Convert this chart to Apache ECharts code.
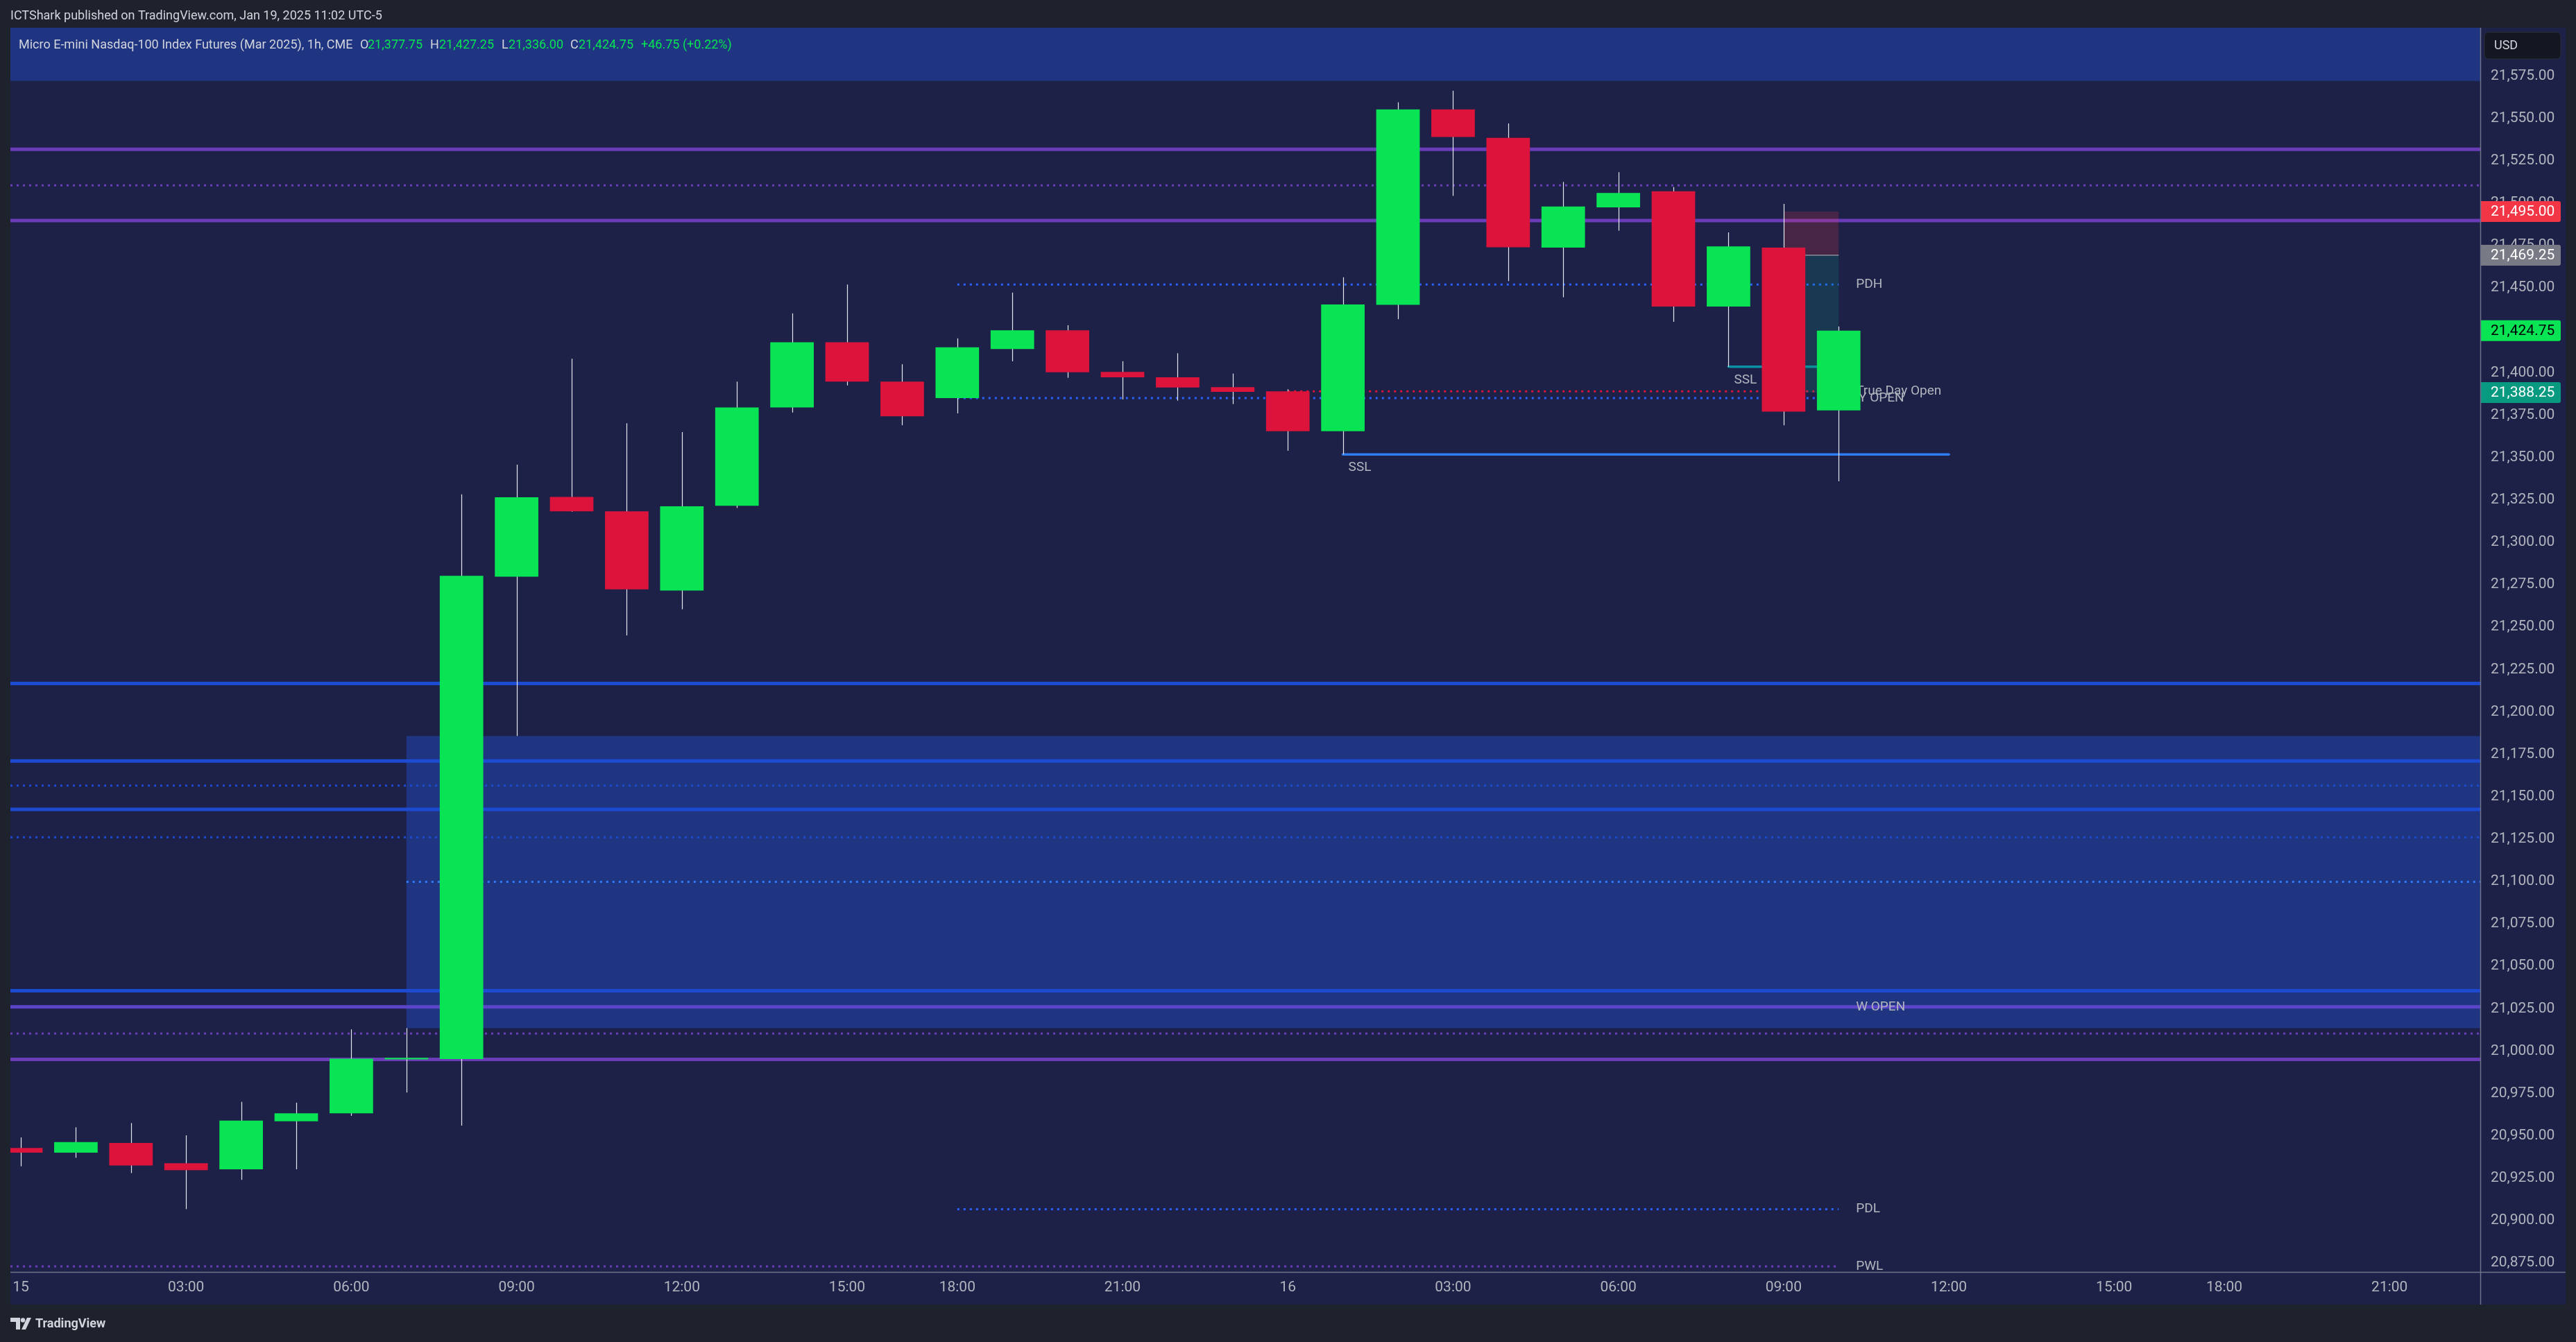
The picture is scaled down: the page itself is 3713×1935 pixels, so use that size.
<!DOCTYPE html>
<html>
<head>
<meta charset="utf-8">
<script src="https://cdn.jsdelivr.net/npm/echarts@6/dist/echarts.min.js"></script>
<style>
html,body{margin:0;padding:0;background:#1e222d;}
#chart{width:3713px;height:1935px;}
</style>
</head>
<body>
<div id="chart"></div>
<script>
// ---------------- DATA ----------------
// hourly bars, Jan 15 00:00 (index 0) ... Jan 16 10:00 (index 33); 17:00 maintenance hour skipped
const barIndex = [0,1,2,3,4,5,6,7,8,9,10,11,12,13,14,15,16,17,18,19,20,21,22,23,24,25,26,27,28,29,30,31,32,33];
const opens  = [20942.75,20940.00,20945.75,20933.75,20930.25,20958.50,20963.25,20995.00,20995.25,21279.75,21326.75,21318.25,21271.50,21321.50,21379.50,21418.00,21394.75,21385.00,21414.00,21425.00,21400.50,21397.25,21391.50,21389.00,21365.50,21440.00,21555.25,21538.50,21473.75,21497.50,21507.00,21439.00,21473.75,21377.75];
const highs  = [20949.00,20955.00,20957.50,20950.25,20970.00,20969.50,21012.75,21013.50,21328.25,21345.75,21408.25,21370.25,21365.00,21394.75,21435.00,21452.00,21405.00,21420.25,21447.25,21428.00,21406.75,21411.50,21399.50,21390.25,21456.25,21559.50,21566.25,21547.00,21512.50,21518.25,21509.50,21482.75,21499.50,21427.25];
const lows   = [20932.00,20937.00,20928.00,20906.75,20924.00,20930.25,20961.75,20975.50,20956.00,21185.75,21318.00,21245.00,21260.50,21320.25,21376.50,21392.50,21369.00,21376.00,21406.75,21397.00,21384.25,21383.50,21381.50,21354.00,21351.75,21431.50,21504.25,21454.00,21444.50,21483.75,21430.00,21403.50,21369.00,21336.00];
const closes = [20940.00,20946.25,20932.50,20929.75,20959.00,20963.25,20995.50,20996.00,21280.25,21326.50,21318.25,21272.25,21321.25,21379.50,21418.00,21394.75,21374.25,21415.00,21425.00,21400.25,21397.25,21391.25,21388.75,21365.50,21440.25,21555.25,21539.00,21474.00,21498.00,21506.00,21439.00,21474.50,21377.00,21424.75];

// time-axis tick labels (bar index -> label)
const xTickIdx    = [0,3,6,9,12,15,17,20,23,26,29,32,35,38,40,43];
const xTickLabels = ['15','03:00','06:00','09:00','12:00','15:00','18:00','21:00','16','03:00','06:00','09:00','12:00','15:00','18:00','21:00'];
// price-axis tick labels
const yTicks = [20875,20900,20925,20950,20975,21000,21025,21050,21075,21100,21125,21150,21175,21200,21225,21250,21275,21300,21325,21350,21375,21400,21425,21450,21475,21500,21525,21550,21575];

// axis window
const X_MIN = -0.189, X_MAX = 44.647;
const Y_MIN = 20869.69, Y_MAX = 21603.43;

// horizontal levels
const levelPrice = [21531.75,21510.50,21489.75,21452.00,21385.00,21389.00,21351.75,21403.50,21216.75,21171.00,21156.50,21142.50,21126.00,21099.75,21035.50,21026.00,21026.00,21010.25,20995.00,20906.75,20873.00];
const levelFrom  = [X_MIN,X_MIN,X_MIN,17,17,23,24,31,X_MIN,X_MIN,X_MIN,X_MIN,X_MIN,7,X_MIN,X_MIN,X_MIN,X_MIN,X_MIN,17,X_MIN];
const levelTo    = [X_MAX,X_MAX,X_MAX,33,33,33,35,33,X_MAX,X_MAX,X_MAX,X_MAX,X_MAX,X_MAX,X_MAX,X_MAX,33,X_MAX,X_MAX,33,33];
const levelKind  = ['purple','purpleDot','purple','brightDot','brightDot','redDot','ssl','sslCyan','blue','blue','blueDot','blue','blueDot','midDot','blue','lavender','lavenderDot','purpleDot','purple','brightDot','purpleDot'];
const levelText  = ['','','','PDH','DAY OPEN','True Day Open','SSL','SSL','','','','','','','','','W OPEN','','','PDL','PWL'];

// zones (FVG and premium band)
const zoneFrom = [7, X_MIN];
const zoneTo   = [X_MAX, X_MAX];
const zoneLow  = [21013.50, 21572.00];
const zoneHigh = [21185.75, Y_MAX];

// short position tool
const posFrom = 32, posTo = 33;
const posStop = 21495.00, posEntry = 21469.25, posTarget = 21388.25;

const symbolTitle = 'Micro E-mini Nasdaq-100 Index Futures (Mar 2025), 1h, CME';
const changeText = '+46.75 (+0.22%)';
const publishText = 'ICTShark published on TradingView.com, Jan 19, 2025 11:02 UTC-5';

// ---------------- STYLE ----------------
const GREEN = '#08e453', RED = '#dc143c', WICK = '#e6e8ef';
const BG = '#1d2147', FRAME = '#1e222d', TXT = '#b2b5be';
const FONT = 'Roboto, "Noto Sans", sans-serif';
const LEVEL_STYLES = {
  purple:      {stroke:'#6a3cb8', lineWidth:5},
  purpleDot:   {stroke:'#6a3cb8', lineWidth:3, lineDash:[3,6]},
  lavender:    {stroke:'#5b45c9', lineWidth:5},
  lavenderDot: {stroke:'#5b45c9', lineWidth:3, lineDash:[3,6]},
  blue:        {stroke:'#1c4bd1', lineWidth:5},
  blueDot:     {stroke:'#1c4bd1', lineWidth:3, lineDash:[3,6]},
  brightDot:   {stroke:'#2962ff', lineWidth:3, lineDash:[3,6]},
  midDot:      {stroke:'#3179f5', lineWidth:3, lineDash:[3,6]},
  redDot:      {stroke:'#dc143c', lineWidth:3, lineDash:[3,6]},
  ssl:         {stroke:'#2e7cf6', lineWidth:3.5, lineCap:'round'},
  sslCyan:     {stroke:'#0a8fa3', lineWidth:3.5, lineCap:'round'}
};
const fmt = v => Number(v).toLocaleString('en-US',{minimumFractionDigits:2, maximumFractionDigits:2});

// ---------------- BUILD ----------------
const candleData = barIndex.map((x,i)=>[x, opens[i], closes[i], lows[i], highs[i]]);
const levelData = levelPrice.map((p,i)=>[levelFrom[i], levelTo[i], p, i]);
const zoneData = zoneLow.map((lo,i)=>[zoneFrom[i], zoneTo[i], lo, zoneHigh[i]]);
const last = barIndex.length - 1;
const tagData = [
  [posStop,  '#f23645', '#ffffff'],
  [posEntry, '#787b86', '#ffffff'],
  [closes[last], GREEN, '#000000'],
  [posTarget, '#089981', '#ffffff']
];

const chart = echarts.init(document.getElementById('chart'), null, {renderer:'canvas'});

const option = {
  backgroundColor: BG,
  animation: false,
  grid: {left:15, right:138, top:40, bottom:101, containLabel:false},
  xAxis: {
    type:'value', min:X_MIN, max:X_MAX,
    axisLine:{show:false}, axisTick:{show:false}, splitLine:{show:false},
    axisLabel:{
      customValues: xTickIdx,
      formatter: v => { const k = xTickIdx.indexOf(Math.round(v)); return k >= 0 ? xTickLabels[k] : ''; },
      color:TXT, fontSize:21, fontFamily:FONT, margin:12
    }
  },
  yAxis: {
    type:'value', position:'right', min:Y_MIN, max:Y_MAX, scale:true,
    axisLine:{show:false}, axisTick:{show:false}, splitLine:{show:false},
    axisLabel:{
      customValues: yTicks, formatter: v => fmt(v),
      color:TXT, fontSize:21, fontFamily:FONT, margin:15
    }
  },
  series: [
    { // zones
      type:'custom', z:1, clip:true, data:zoneData,
      encode:{x:[0,1], y:[2,3]},
      renderItem:(params, api) => {
        const a = api.coord([api.value(0), api.value(3)]);
        const b = api.coord([api.value(1), api.value(2)]);
        return {type:'rect', shape:{x:a[0], y:a[1], width:b[0]-a[0], height:b[1]-a[1]}, style:{fill:'#1f3581'}};
      }
    },
    { // levels
      type:'custom', z:3, clip:true, data:levelData,
      encode:{x:[0,1], y:2},
      renderItem:(params, api) => {
        const i = api.value(3);
        const a = api.coord([api.value(0), api.value(2)]);
        const b = api.coord([api.value(1), api.value(2)]);
        const st = Object.assign({fill:null}, LEVEL_STYLES[levelKind[i]]);
        return {type:'line', shape:{x1:a[0], y1:a[1], x2:b[0], y2:b[1]}, style:st};
      }
    },
    { // level labels
      type:'custom', z:4, clip:false, data:levelData,
      encode:{x:[0,1], y:2},
      renderItem:(params, api) => {
        const i = api.value(3);
        const t = levelText[i];
        if (!t) return null;
        let x, y;
        if (t === 'SSL') {
          const a = api.coord([api.value(0), api.value(2)]);
          x = a[0] + 8; y = a[1] + 19;
        } else {
          const b = api.coord([api.value(1), api.value(2)]);
          x = b[0] + (t === 'DAY OPEN' ? 5 : 25); y = b[1];
        }
        return {type:'text', style:{text:t, x:x, y:y, fill:TXT, fontSize:19, fontFamily:FONT, align:'left', verticalAlign:'middle'}};
      }
    },
    { // short position tool
      type:'custom', z:5, clip:true, data:[[posFrom, posTo, posStop, posEntry, posTarget]],
      encode:{x:[0,1], y:[2,4]},
      renderItem:(params, api) => {
        const s = api.coord([api.value(0), api.value(2)]);
        const e = api.coord([api.value(1), api.value(3)]);
        const t = api.coord([api.value(1), api.value(4)]);
        return {type:'group', children:[
          {type:'rect', shape:{x:s[0], y:s[1], width:e[0]-s[0], height:e[1]-s[1]}, style:{fill:'rgba(242,54,69,0.2)'}},
          {type:'rect', shape:{x:s[0], y:e[1], width:e[0]-s[0], height:t[1]-e[1]}, style:{fill:'rgba(8,153,129,0.2)'}},
          {type:'line', shape:{x1:s[0], y1:e[1], x2:e[0], y2:e[1]}, style:{stroke:'#8a8d99', lineWidth:1.5}}
        ]};
      }
    },
    { // candles
      type:'custom', z:6, clip:true, data:candleData,
      encode:{x:0, y:[1,2,3,4]},
      renderItem:(params, api) => {
        const x = api.value(0), o = api.value(1), c = api.value(2), l = api.value(3), h = api.value(4);
        const pO = api.coord([x,o]), pC = api.coord([x,c]), pL = api.coord([x,l]), pH = api.coord([x,h]);
        const w = api.size([1,0])[0] * 0.79;
        const top = Math.min(pO[1], pC[1]), bot = Math.max(pO[1], pC[1]);
        const cx = Math.round(pO[0]) + 0.5;
        return {type:'group', children:[
          {type:'line', shape:{x1:cx, y1:pH[1], x2:cx, y2:pL[1]}, style:{stroke:WICK, lineWidth:1.2}},
          {type:'rect', shape:{x:pO[0]-w/2, y:top, width:w, height:Math.max(bot-top, 2)}, style:{fill: c >= o ? GREEN : RED}}
        ]};
      }
    },
    { // price-axis tags
      type:'custom', z:8, clip:false, data:tagData.map(d=>[X_MAX, d[0]]),
      encode:{x:0, y:1},
      renderItem:(params, api) => {
        const i = params.dataIndex;
        const p = api.coord([api.value(0), api.value(1)]);
        const x0 = params.coordSys.x + params.coordSys.width;
        return {type:'group', children:[
          {type:'rect', shape:{x:x0, y:p[1]-15, width:116, height:30, r:[0,3,3,0]}, style:{fill:tagData[i][1]}},
          {type:'text', style:{text:fmt(tagData[i][0]), x:x0+15, y:p[1]+1, fill:tagData[i][2], fontSize:21, fontFamily:FONT, align:'left', verticalAlign:'middle'}}
        ]};
      }
    }
  ],
  graphic: [
    // outer frame
    {type:'rect', z:100, silent:true, shape:{x:0, y:0, width:3713, height:40}, style:{fill:FRAME}},
    {type:'rect', z:100, silent:true, shape:{x:0, y:0, width:15, height:1935}, style:{fill:FRAME}},
    {type:'rect', z:100, silent:true, shape:{x:3698, y:0, width:15, height:1935}, style:{fill:FRAME}},
    {type:'rect', z:100, silent:true, shape:{x:0, y:1881, width:3713, height:54}, style:{fill:FRAME}},
    // separators
    {type:'line', z:101, silent:true, shape:{x1:3575.5, y1:40, x2:3575.5, y2:1881}, style:{stroke:'#6f7387', lineWidth:1.5}},
    {type:'line', z:101, silent:true, shape:{x1:15, y1:1834.5, x2:3698, y2:1834.5}, style:{stroke:'#6f7387', lineWidth:1.5}},
    // USD box
    {type:'rect', z:101, silent:true, shape:{x:3581, y:46.5, width:110, height:38.5, r:6}, style:{fill:'#131722', stroke:'#2a2e39', lineWidth:1}},
    {type:'text', z:102, silent:true, style:{text:'USD', x:3595, y:66, fill:'#d1d4dc', fontSize:18, fontFamily:FONT, align:'left', verticalAlign:'middle'}},
    // header
    {type:'text', z:102, silent:true, style:{text:publishText, x:15, y:23, fill:'#d1d4dc', fontSize:18, fontFamily:FONT, align:'left', verticalAlign:'middle'}},
    // legend
    {type:'text', z:102, silent:true, style:{text:symbolTitle, x:27, y:65, fill:'#d1d4dc', fontSize:18, fontFamily:FONT, align:'left', verticalAlign:'middle'}},
    {type:'text', z:102, silent:true, style:{text:'O', x:519, y:65, fill:'#d1d4dc', fontSize:18, fontFamily:FONT, align:'left', verticalAlign:'middle'}},
    {type:'text', z:102, silent:true, style:{text:fmt(opens[last]), x:530, y:65, fill:GREEN, fontSize:18, fontFamily:FONT, align:'left', verticalAlign:'middle'}},
    {type:'text', z:102, silent:true, style:{text:'H', x:620, y:65, fill:'#d1d4dc', fontSize:18, fontFamily:FONT, align:'left', verticalAlign:'middle'}},
    {type:'text', z:102, silent:true, style:{text:fmt(highs[last]), x:633, y:65, fill:GREEN, fontSize:18, fontFamily:FONT, align:'left', verticalAlign:'middle'}},
    {type:'text', z:102, silent:true, style:{text:'L', x:723, y:65, fill:'#d1d4dc', fontSize:18, fontFamily:FONT, align:'left', verticalAlign:'middle'}},
    {type:'text', z:102, silent:true, style:{text:fmt(lows[last]), x:733, y:65, fill:GREEN, fontSize:18, fontFamily:FONT, align:'left', verticalAlign:'middle'}},
    {type:'text', z:102, silent:true, style:{text:'C', x:822, y:65, fill:'#d1d4dc', fontSize:18, fontFamily:FONT, align:'left', verticalAlign:'middle'}},
    {type:'text', z:102, silent:true, style:{text:fmt(closes[last]), x:834, y:65, fill:GREEN, fontSize:18, fontFamily:FONT, align:'left', verticalAlign:'middle'}},
    {type:'text', z:102, silent:true, style:{text:changeText, x:924, y:65, fill:GREEN, fontSize:18, fontFamily:FONT, align:'left', verticalAlign:'middle'}},
    // TradingView logo
    {type:'polygon', z:102, silent:true, shape:{points:[[15,1900],[29,1900],[29,1917],[23,1917],[23,1906],[15,1906]]}, style:{fill:'#d1d4dc'}},
    {type:'circle', z:102, silent:true, shape:{cx:33, cy:1903.5, r:3.2}, style:{fill:'#d1d4dc'}},
    {type:'polygon', z:102, silent:true, shape:{points:[[39,1900],[45,1900],[37,1917],[31,1917]]}, style:{fill:'#d1d4dc'}},
    {type:'text', z:102, silent:true, style:{text:'TradingView', x:51, y:1909, fill:'#d1d4dc', fontSize:18, fontWeight:'bold', fontFamily:FONT, align:'left', verticalAlign:'middle'}}
  ]
};
chart.setOption(option);
</script>
</body>
</html>
